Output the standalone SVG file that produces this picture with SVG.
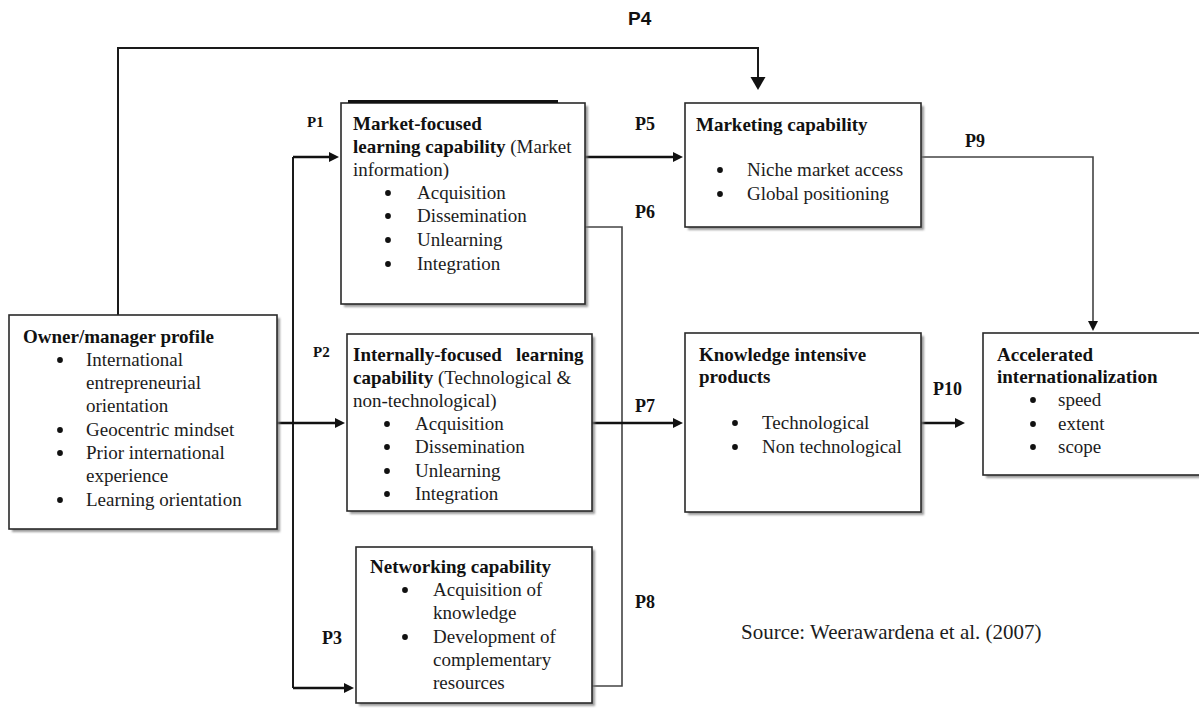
<svg xmlns="http://www.w3.org/2000/svg" width="1199" height="708" viewBox="0 0 1199 708">
  <style>
    .box { fill: #ffffff; stroke: #2a2a2a; stroke-width: 1.6; }
    .shadow { fill: #7a7a7a; opacity: 0.75; }
    .t { font-family: "Liberation Serif", "Times New Roman", serif; font-size: 19px; fill: #1c1c1c; }
    .b { font-weight: bold; fill: #111; }
    .lbl { font-family: "Liberation Serif", "Times New Roman", serif; font-weight: bold; font-size: 18px; fill: #111; }
    .lbl-s { font-size: 15px; }
    .lbl-sans { font-family: "Liberation Sans", Arial, sans-serif; font-weight: bold; font-size: 19px; fill: #111; }
    .src { font-family: "Liberation Serif", "Times New Roman", serif; font-size: 21px; fill: #1c1c1c; }
    .link { fill: none; stroke: #111; stroke-width: 2.5; }
    .link-m { fill: none; stroke: #1a1a1a; stroke-width: 2; }
    .link-t { fill: none; stroke: #444; stroke-width: 1.6; }
  </style>
  <defs>
    <filter id="soft" x="-5%" y="-5%" width="110%" height="110%">
      <feGaussianBlur stdDeviation="1"/>
    </filter>
    <!-- list bullet, placed at the centre of each dot -->
    <circle id="dot" r="2.9" fill="#111"/>
    <marker id="arr" markerUnits="userSpaceOnUse" markerWidth="12" markerHeight="12" refX="2" refY="5" orient="auto">
      <path d="M0,0 L10,5 L0,10 z" fill="#111"/>
    </marker>
    <marker id="arrBig" markerUnits="userSpaceOnUse" markerWidth="16" markerHeight="16" refX="2" refY="7.5" orient="auto">
      <path d="M0,0 L13,7.5 L0,15 z" fill="#111"/>
    </marker>
  </defs>

  <rect width="1199" height="708" fill="#ffffff"/>

  <!-- connectors -->
  <g id="connectors">
    <!-- P4: owner profile to marketing capability over the top -->
    <path class="link-m" d="M118,315 V48 H758 V79" marker-end="url(#arrBig)"/>
    <!-- distribution bus feeding P1 and P3 -->
    <path class="link-m" d="M293,157 V688"/>
    <path class="link" d="M293,157 H331" marker-end="url(#arr)"/>
    <path class="link" d="M277,423 H337" marker-end="url(#arr)"/>
    <path class="link" d="M293,688 H346" marker-end="url(#arr)"/>
    <!-- P5 -->
    <path class="link" d="M585,157 H675" marker-end="url(#arr)"/>
    <!-- P6 / P8 return line -->
    <path class="link-t" d="M585,227 H622 V686 H592"/>
    <!-- P7 -->
    <path class="link" d="M592,423 H675" marker-end="url(#arr)"/>
    <!-- P9 -->
    <path class="link-t" d="M921,157 H1093 V323" marker-end="url(#arr)"/>
    <!-- P10 -->
    <path class="link" d="M904,423 H957" marker-end="url(#arr)"/>
  </g>

  <!-- proposition labels -->
  <g id="labels">
    <text class="lbl-sans" x="628" y="25">P4</text>
    <text class="lbl lbl-s" x="307" y="127">P1</text>
    <text class="lbl lbl-s" x="313" y="357">P2</text>
    <text class="lbl" x="322" y="644">P3</text>
    <text class="lbl" x="635" y="130">P5</text>
    <text class="lbl" x="635" y="218">P6</text>
    <text class="lbl" x="635" y="412">P7</text>
    <text class="lbl" x="635" y="608">P8</text>
    <text class="lbl" x="965" y="147">P9</text>
    <text class="lbl" x="933" y="395">P10</text>
  </g>

  <!-- Owner/manager profile -->
  <g id="owner">
    <rect class="shadow" x="12" y="318" width="268" height="214" filter="url(#soft)"/>
    <rect class="box" x="9" y="315" width="268" height="214"/>
    <text class="t b" x="23" y="343">Owner/manager profile</text>
    <use href="#dot" x="60" y="360"/>
    <text class="t" x="86" y="366">International</text>
    <text class="t" x="86" y="389">entrepreneurial</text>
    <text class="t" x="86" y="412">orientation</text>
    <use href="#dot" x="60" y="430"/>
    <text class="t" x="86" y="436">Geocentric mindset</text>
    <use href="#dot" x="60" y="453"/>
    <text class="t" x="86" y="459">Prior international</text>
    <text class="t" x="86" y="482">experience</text>
    <use href="#dot" x="60" y="500"/>
    <text class="t" x="86" y="506">Learning orientation</text>
  </g>

  <!-- Market-focused learning capability -->
  <g id="market-learning">
    <rect class="shadow" x="344" y="106" width="244" height="201" filter="url(#soft)"/>
    <rect class="box" x="341" y="103" width="244" height="201"/>
    <line x1="348" y1="101.5" x2="558" y2="101.5" stroke="#111" stroke-width="3"/>
    <text class="t b" x="353" y="130">Market-focused</text>
    <text class="t" x="353" y="153"><tspan class="b">learning capability</tspan> (Market</text>
    <text class="t" x="353" y="176">information)</text>
    <use href="#dot" x="388" y="193"/>
    <text class="t" x="417" y="199">Acquisition</text>
    <use href="#dot" x="388" y="216"/>
    <text class="t" x="417" y="222">Dissemination</text>
    <use href="#dot" x="388" y="240"/>
    <text class="t" x="417" y="246">Unlearning</text>
    <use href="#dot" x="388" y="264"/>
    <text class="t" x="417" y="270">Integration</text>
  </g>

  <!-- Internally-focused learning capability -->
  <g id="internal-learning">
    <rect class="shadow" x="350" y="337" width="245" height="177" filter="url(#soft)"/>
    <rect class="box" x="347" y="334" width="245" height="177"/>
    <text class="t b" x="353" y="361">Internally-focused</text>
    <text class="t b" x="516" y="361">learning</text>
    <text class="t" x="353" y="384"><tspan class="b">capability</tspan> (Technological &amp;</text>
    <text class="t" x="353" y="407">non-technological)</text>
    <use href="#dot" x="387" y="424"/>
    <text class="t" x="415" y="430">Acquisition</text>
    <use href="#dot" x="387" y="447"/>
    <text class="t" x="415" y="453">Dissemination</text>
    <use href="#dot" x="387" y="471"/>
    <text class="t" x="415" y="477">Unlearning</text>
    <use href="#dot" x="387" y="494"/>
    <text class="t" x="415" y="500">Integration</text>
  </g>

  <!-- Networking capability -->
  <g id="networking">
    <rect class="shadow" x="359" y="550" width="236" height="156" filter="url(#soft)"/>
    <rect class="box" x="356" y="547" width="236" height="156"/>
    <text class="t b" x="370" y="573">Networking capability</text>
    <use href="#dot" x="405" y="590"/>
    <text class="t" x="433" y="596">Acquisition of</text>
    <text class="t" x="433" y="619">knowledge</text>
    <use href="#dot" x="405" y="637"/>
    <text class="t" x="433" y="643">Development of</text>
    <text class="t" x="433" y="666">complementary</text>
    <text class="t" x="433" y="689">resources</text>
  </g>

  <!-- Marketing capability -->
  <g id="marketing">
    <rect class="shadow" x="688" y="106" width="236" height="124" filter="url(#soft)"/>
    <rect class="box" x="685" y="103" width="236" height="124"/>
    <text class="t b" x="696" y="131">Marketing capability</text>
    <use href="#dot" x="720" y="170"/>
    <text class="t" x="747" y="176">Niche market access</text>
    <use href="#dot" x="720" y="194"/>
    <text class="t" x="747" y="200">Global positioning</text>
  </g>

  <!-- Knowledge intensive products -->
  <g id="knowledge">
    <rect class="shadow" x="688" y="336" width="236" height="179" filter="url(#soft)"/>
    <rect class="box" x="685" y="333" width="236" height="179"/>
    <text class="t b" x="699" y="361">Knowledge intensive</text>
    <text class="t b" x="699" y="383">products</text>
    <use href="#dot" x="735" y="423"/>
    <text class="t" x="762" y="429">Technological</text>
    <use href="#dot" x="735" y="447"/>
    <text class="t" x="762" y="453">Non technological</text>
  </g>

  <!-- Accelerated internationalization -->
  <g id="accelerated">
    <rect class="shadow" x="986" y="336" width="230" height="142" filter="url(#soft)"/>
    <rect class="box" x="983" y="333" width="230" height="142"/>
    <text class="t b" x="997" y="361">Accelerated</text>
    <text class="t b" x="997" y="383">internationalization</text>
    <use href="#dot" x="1033" y="400"/>
    <text class="t" x="1058" y="406">speed</text>
    <use href="#dot" x="1033" y="424"/>
    <text class="t" x="1058" y="430">extent</text>
    <use href="#dot" x="1033" y="447"/>
    <text class="t" x="1058" y="453">scope</text>
  </g>

  <text class="src" x="741" y="639">Source: Weerawardena et al. (2007)</text>
</svg>
